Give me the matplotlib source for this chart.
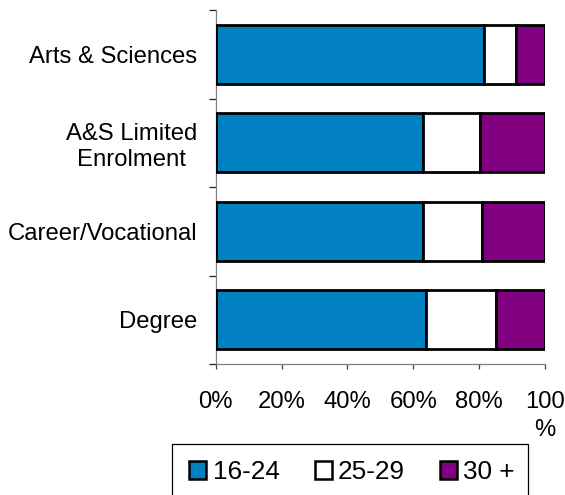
import matplotlib
matplotlib.use("Agg")
import matplotlib.pyplot as plt
from matplotlib.patches import Patch, Rectangle
import numpy as np

plt.rcParams['font.family'] = ['Liberation Sans', 'DejaVu Sans']

categories = ["Arts & Sciences", "A&S Limited\nEnrolment", "Career/Vocational", "Degree"]
series_names = ["16-24", "25-29", "30 +"]
age_16_24 = [81.6, 63.0, 63.0, 63.9]
age_25_29 = [9.7, 17.3, 17.8, 21.2]
age_30_plus = [8.7, 19.7, 19.2, 14.9]
xtick_values = [0, 20, 40, 60, 80, 100]
xtick_labels = ["0%", "20%", "40%", "60%", "80%", "100\n%"]

colors = ["#0080C0", "#FFFFFF", "#800080"]

W, H = 565, 495
fig = plt.figure(figsize=(W / 100, H / 100), dpi=100)
x0, x1, y0, y1 = 215.7, 545.0, 10.0, 364.0
ax = fig.add_axes([x0 / W, 1 - y1 / H, (x1 - x0) / W, (y1 - y0) / H])

ypos = np.arange(len(categories))
left = np.zeros(len(categories))
for vals, col, name in zip([age_16_24, age_25_29, age_30_plus], colors, series_names):
    ax.barh(ypos, vals, left=left, height=0.667, color=col, edgecolor="black",
            linewidth=2.0, label=name, zorder=3)
    left = left + np.array(vals)

ax.set_xlim(0, 100)
ax.set_ylim(len(categories) - 0.5, -0.5)

for s in ["top", "right"]:
    ax.spines[s].set_visible(False)
for s in ["left", "bottom"]:
    ax.spines[s].set_color("#808080")
    ax.spines[s].set_linewidth(0.9)

ax.set_xticks(xtick_values)
ax.set_xticklabels(xtick_labels, fontsize=17.2, linespacing=1.35)
ax.tick_params(axis="x", direction="out", length=3.5, width=0.9, color="#404040", pad=16)

ax.set_yticks(ypos)
ax.set_yticklabels(categories, fontsize=17.2, multialignment="center", linespacing=1.25)
ax.tick_params(axis="y", which="major", length=0, pad=13.5)
ax.set_yticks(np.arange(-0.5, len(categories), 1.0), minor=True)
ax.tick_params(axis="y", which="minor", direction="out", length=5, width=0.9, color="#202020")

# legend frame
fig.patches.append(Rectangle((171.7 / W, -0.05), (527.7 - 171.7) / W, 0.05 + 1 - 444.3 / H,
                             transform=fig.transFigure, facecolor="white",
                             edgecolor="black", linewidth=0.9, zorder=1))
handles = [Patch(facecolor=c, edgecolor="black", linewidth=1.8) for c in colors]
fig.legend(handles, series_names, loc="center left",
           bbox_to_anchor=(189.3 / W, 1 - 472 / H), bbox_transform=fig.transFigure,
           ncol=3, frameon=False, fontsize=18.8, handlelength=0.65, handleheight=0.65,
           handletextpad=0.24, columnspacing=1.35, borderpad=0, borderaxespad=0)

fig.savefig("out.png", dpi=100)
